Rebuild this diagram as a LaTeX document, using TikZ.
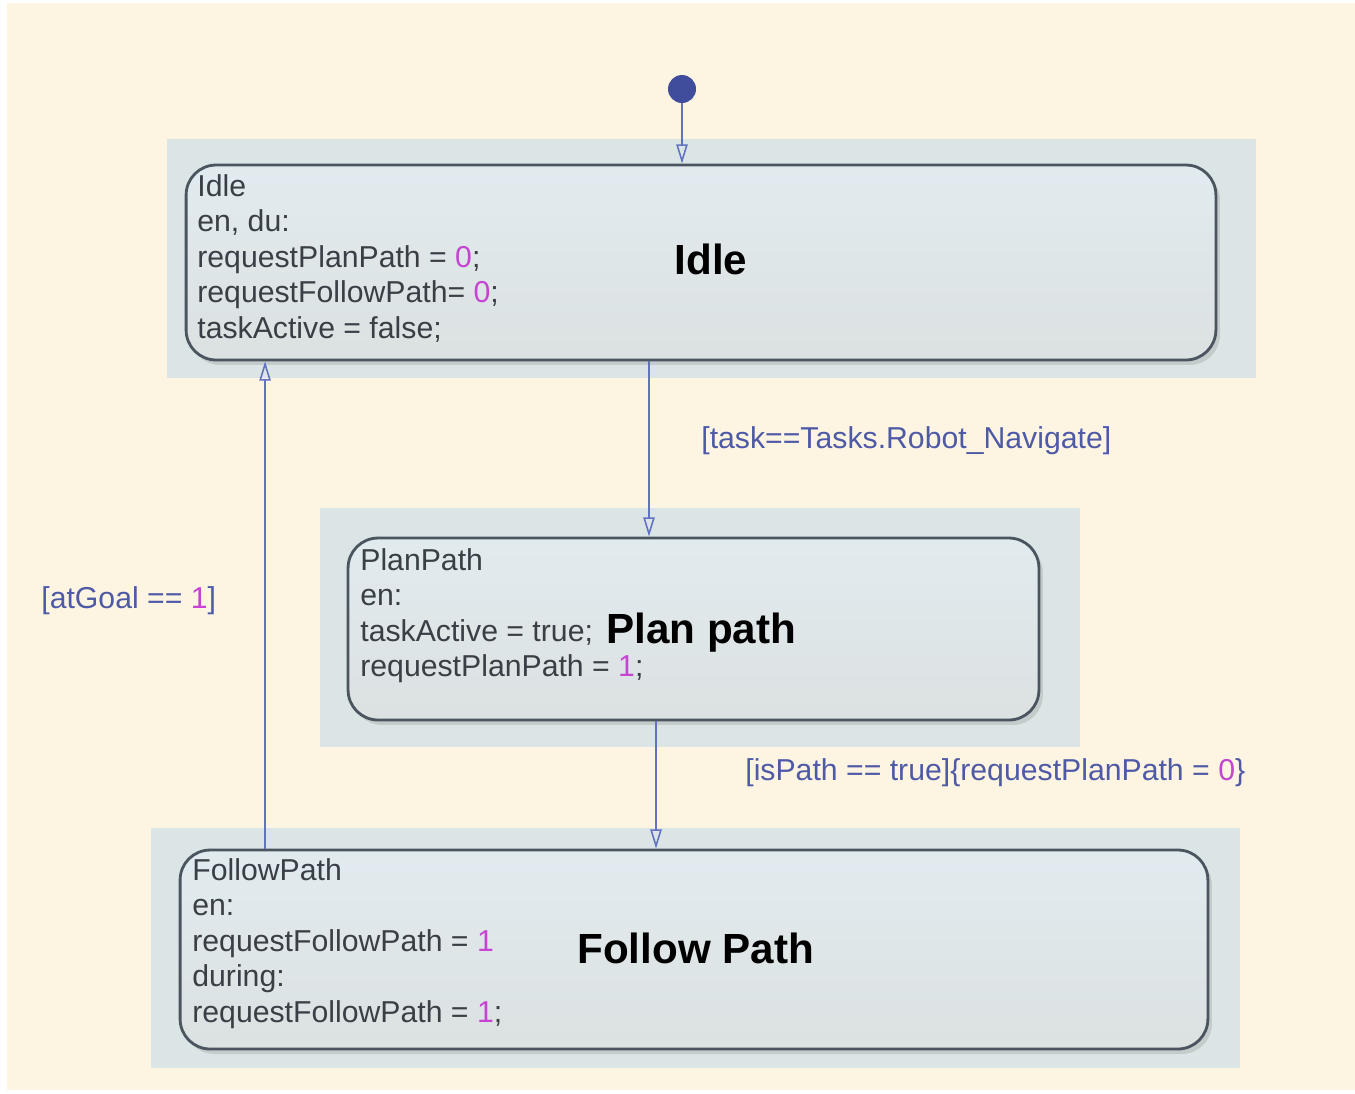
\documentclass[tikz,border=0pt]{standalone}
\usepackage{fontspec}
\setmainfont{Liberation Sans}
\usetikzlibrary{arrows.meta, shadows}

\definecolor{cream}{HTML}{FEF4E2}
\definecolor{regionbg}{HTML}{DCE5E5}
\definecolor{statetop}{HTML}{E1EBEF}
\definecolor{statebot}{HTML}{DCE1E1}
\definecolor{stateline}{HTML}{4B5560}
\definecolor{statetext}{HTML}{3A3F46}
\definecolor{transline}{HTML}{6272C2}
\definecolor{translabel}{HTML}{4F5AA6}
\definecolor{numcol}{HTML}{C545D2}
\definecolor{dotcol}{HTML}{404C9C}

\newcommand{\valnum}[1]{\textcolor{numcol}{#1}}

\begin{document}
\begin{tikzpicture}[
  x=0.02cm, y=-0.02cm,
  statebox/.style={rectangle, draw=stateline, line width=1.6pt, rounded corners=0.6cm,
    top color=statetop, bottom color=statebot,
    drop shadow={opacity=0.25, shadow xshift=0.08cm, shadow yshift=-0.1cm}},
  region/.style={fill=regionbg},
  action/.style={anchor=north west, inner sep=0pt, align=left, text=statetext,
    font=\fontsize{17.2}{20.2}\selectfont},
  title/.style={inner sep=0pt, font=\fontsize{24}{28}\selectfont\bfseries},
  guard/.style={anchor=west, inner sep=0pt, text=translabel, font=\fontsize{17.2}{20.2}\selectfont},
  trans/.style={-{Triangle[open, length=11pt, width=6.5pt]}, transline, line width=0.9pt}
]

% Page and background
\useasboundingbox (0,0) rectangle (1355,1093);
\fill[white] (0,0) rectangle (1355,1093);
\fill[cream] (7,3) rectangle (1355,1090);

% Shaded regions behind the states
\fill[region] (167,139) rectangle (1256,378);
\fill[region] (320,508) rectangle (1080,747);
\fill[region] (151,828) rectangle (1240,1068);

% States
\node[statebox, minimum width=20.6cm, minimum height=3.9cm] (idle) at (701,262.5) {};
\node[statebox, minimum width=13.82cm, minimum height=3.64cm] (plan) at (693.5,629) {};
\node[statebox, minimum width=20.56cm, minimum height=3.98cm] (follow) at (694,949.5) {};

% State actions
\node[action] (idleact) at (197,174) {Idle\\en, du:\\requestPlanPath = \valnum{0};\\requestFollowPath= \valnum{0};\\taskActive = false;};
\node[action] (planact) at (360,548) {PlanPath\\en:\\taskActive = true;\\requestPlanPath = \valnum{1};};
\node[action] (followact) at (192,858) {FollowPath\\en:\\requestFollowPath = \valnum{1}\\during:\\requestFollowPath = \valnum{1};};

% State titles
\node[title, anchor=base] (idletitle) at (711,274) {Idle};
\node[title, anchor=base west] (plantitle) at (606,643) {Plan path};
\node[title, anchor=base west] (followtitle) at (577,963) {Follow Path};

% Default transition
\node[circle, fill=dotcol, inner sep=0pt, minimum size=0.56cm] (init) at (682,89) {};
\draw[trans] (init) -- (init |- idle.north);

% Transitions
\draw[trans] ([xshift=-1.04cm]idle.south) -- ([xshift=-1.04cm]idle.south |- plan.north);
\draw[trans] ([xshift=-0.75cm]plan.south) -- ([xshift=-0.75cm]plan.south |- follow.north);
\draw[trans] ([xshift=-8.58cm]follow.north) -- ([xshift=-8.58cm]follow.north |- idle.south);

% Guards
\node[guard] (navguard) at (701,441) {[task==Tasks.Robot\_Navigate]};
\node[guard] (pathguard) at (745,773) {[isPath == true]\{requestPlanPath = \valnum{0}\}};
\node[guard] (goalguard) at (41,601) {[atGoal == \valnum{1}]};

\end{tikzpicture}
\end{document}
